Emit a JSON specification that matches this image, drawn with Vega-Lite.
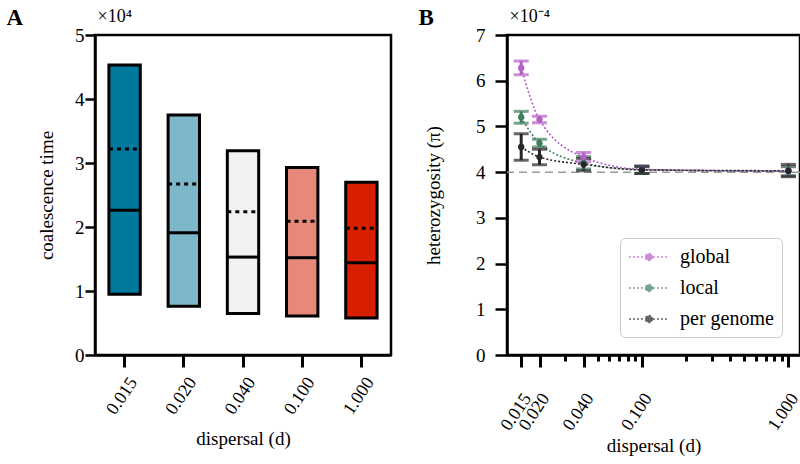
{
  "$schema": "https://vega.github.io/schema/vega-lite/v6.json",
  "background": "white",
  "padding": {"left": 4, "top": 4, "right": 2, "bottom": 2},
  "spacing": 23,
  "resolve": {"scale": {"color": "independent"}},
  "config": {
    "font": "Liberation Serif",
    "view": {"stroke": "black", "strokeWidth": 2.5},
    "axis": {
      "grid": false,
      "domainColor": "black",
      "domainWidth": 2.5,
      "tickColor": "black",
      "tickWidth": 2.5,
      "labelColor": "black",
      "titleColor": "black",
      "labelFont": "Liberation Serif",
      "titleFont": "Liberation Serif",
      "labelFontSize": 19,
      "titleFontSize": 19,
      "titleFontWeight": "normal"
    }
  },
  "hconcat": [
    {
      "width": 296,
      "height": 320,
      "data": {
        "values": [
          {"d": "0.015", "lo": 0.95, "hi": 4.53, "median": 2.26, "mean": 3.22},
          {"d": "0.020", "lo": 0.76, "hi": 3.75, "median": 1.91, "mean": 2.67},
          {"d": "0.040", "lo": 0.65, "hi": 3.19, "median": 1.53, "mean": 2.24},
          {"d": "0.100", "lo": 0.61, "hi": 2.93, "median": 1.52, "mean": 2.09},
          {"d": "1.000", "lo": 0.58, "hi": 2.70, "median": 1.44, "mean": 1.98}
        ]
      },
      "resolve": {"axis": {"y": "independent"}},
      "layer": [
        {
          "mark": {"type": "bar", "stroke": "black", "strokeWidth": 3},
          "encoding": {
            "x": {
              "field": "d", "type": "ordinal", "sort": null,
              "scale": {"paddingInner": 0.47, "paddingOuter": 0.235},
              "axis": {"title": "dispersal (d)", "labelAngle": -56, "labelAlign": "right", "labelBaseline": "middle", "labelOffset": 9, "labelPadding": 12, "tickSize": 12, "tickWidth": 3, "labelFontSize": 18, "titlePadding": 12}
            },
            "y": {
              "field": "lo", "type": "quantitative",
              "scale": {"domain": [0, 5]},
              "axis": {"orient": "left", "title": "coalescence time", "values": [0, 1, 2, 3, 4, 5], "format": "d", "tickSize": 10, "labelPadding": 1, "titlePadding": 18}
            },
            "y2": {"field": "hi"},
            "color": {
              "field": "d", "type": "nominal", "sort": null,
              "scale": {"range": ["#00799d", "#7eb7c9", "#f2f0f0", "#e6887a", "#d81f00"]},
              "legend": null
            }
          }
        },
        {
          "mark": {"type": "rule", "color": "black", "strokeWidth": 3},
          "encoding": {
            "x": {"field": "d", "type": "ordinal", "sort": null, "bandPosition": 0},
            "x2": {"field": "d", "bandPosition": 1},
            "y": {
              "field": "median", "type": "quantitative",
              "axis": {"orient": "left", "title": "A", "titleAngle": 0, "titleX": -89, "titleY": -11, "titleAlign": "left", "titleBaseline": "alphabetic", "titleFontSize": 23, "titleFontWeight": "bold", "domain": false, "ticks": false, "labels": false}
            }
          }
        },
        {
          "mark": {"type": "rule", "color": "black", "strokeWidth": 3, "strokeDash": [4, 4]},
          "encoding": {
            "x": {"field": "d", "type": "ordinal", "sort": null, "bandPosition": 0},
            "x2": {"field": "d", "bandPosition": 1},
            "y": {
              "field": "mean", "type": "quantitative",
              "axis": {"orient": "left", "title": "×10⁴", "titleAngle": 0, "titleX": 2, "titleY": -14, "titleAlign": "left", "titleBaseline": "alphabetic", "titleFontSize": 18, "titleFontWeight": "normal", "domain": false, "ticks": false, "labels": false}
            }
          }
        }
      ]
    },
    {
      "width": 293,
      "height": 320,
      "data": {
        "values": [
          {"d": 0.015, "series": "global", "mean": 6.28, "lo": 6.13, "hi": 6.43},
          {"d": 0.02, "series": "global", "mean": 5.15, "lo": 5.08, "hi": 5.22},
          {"d": 0.04, "series": "global", "mean": 4.33, "lo": 4.23, "hi": 4.43},
          {"d": 0.1, "series": "global", "mean": 4.06, "lo": 3.97, "hi": 4.14},
          {"d": 1.0, "series": "global", "mean": 4.02, "lo": 3.92, "hi": 4.12},
          {"d": 0.015, "series": "local", "mean": 5.2, "lo": 5.07, "hi": 5.33},
          {"d": 0.02, "series": "local", "mean": 4.63, "lo": 4.55, "hi": 4.72},
          {"d": 0.04, "series": "local", "mean": 4.2, "lo": 4.07, "hi": 4.34},
          {"d": 0.1, "series": "local", "mean": 4.05, "lo": 3.97, "hi": 4.13},
          {"d": 1.0, "series": "local", "mean": 4.02, "lo": 3.92, "hi": 4.12},
          {"d": 0.015, "series": "per genome", "mean": 4.55, "lo": 4.26, "hi": 4.84},
          {"d": 0.02, "series": "per genome", "mean": 4.33, "lo": 4.16, "hi": 4.5},
          {"d": 0.04, "series": "per genome", "mean": 4.17, "lo": 4.03, "hi": 4.3},
          {"d": 0.1, "series": "per genome", "mean": 4.05, "lo": 3.97, "hi": 4.12},
          {"d": 1.0, "series": "per genome", "mean": 4.03, "lo": 3.9, "hi": 4.17}
        ]
      },
      "resolve": {"axis": {"y": "independent"}},
      "layer": [
        {
          "data": {"values": [{"ref": 4}]},
          "mark": {"type": "rule", "color": "#9a9a9a", "strokeWidth": 1.5, "strokeDash": [8, 5]},
          "encoding": {
            "y": {
              "field": "ref", "type": "quantitative",
              "axis": {"orient": "left", "title": "B", "titleAngle": 0, "titleX": -89, "titleY": -11, "titleAlign": "left", "titleBaseline": "alphabetic", "titleFontSize": 23, "titleFontWeight": "bold", "domain": false, "ticks": false, "labels": false}
            }
          }
        },
        {
          "mark": {"type": "line", "strokeWidth": 1.6, "strokeDash": [2, 2], "interpolate": "monotone"},
          "encoding": {
            "x": {
              "field": "d", "type": "quantitative",
              "scale": {"type": "log", "domain": [0.012, 1.2]},
              "axis": {
                "title": "dispersal (d)",
                "values": [0.015, 0.02, 0.03, 0.04, 0.05, 0.06, 0.07, 0.08, 0.09, 0.1, 0.2, 0.3, 0.4, 0.5, 0.6, 0.7, 0.8, 0.9, 1],
                "labelExpr": "indexof([0.015, 0.02, 0.04, 0.1, 1], datum.value) >= 0 ? format(datum.value, '.3f') : ''",
                "tickSize": {"condition": {"test": "indexof([0.015, 0.02, 0.04, 0.1, 1], datum.value) >= 0", "value": 12}, "value": 6},
                "tickWidth": 3,
                "labelAngle": -56, "labelAlign": "right", "labelBaseline": "middle",
                "labelOffset": 6, "labelPadding": 28, "labelFontSize": 18,
                "labelOverlap": false, "labelFlush": false,
                "titlePadding": 3
              }
            },
            "y": {
              "field": "mean", "type": "quantitative",
              "scale": {"domain": [0, 7]},
              "axis": {"orient": "left", "title": "heterozygosity (π)", "values": [0, 1, 2, 3, 4, 5, 6, 7], "format": "d", "tickSize": 12, "labelPadding": 10, "titlePadding": 32}
            },
            "color": {
              "field": "series", "type": "nominal",
              "scale": {"domain": ["global", "local", "per genome"], "range": ["#b65ec8", "#3f7f5e", "#262626"]},
              "legend": {
                "title": null, "orient": "none", "legendX": 113, "legendY": 203,
                "symbolType": "M-2,0L2,0M0.35,0A0.35,0.35,0,1,1,-0.35,0A0.35,0.35,0,1,1,0.35,0",
                "symbolSize": 400, "symbolStrokeWidth": 1.5, "symbolDash": [2, 2], "symbolOpacity": 1,
                "symbolOffset": 10, "labelOffset": 20, "labelFontSize": 20, "labelFont": "Liberation Serif", "labelColor": "black",
                "rowPadding": 10, "padding": 8, "strokeColor": "#cccccc", "fillColor": "white", "cornerRadius": 5
              }
            }
          }
        },
        {
          "mark": {"type": "rule", "strokeWidth": 3},
          "encoding": {
            "x": {"field": "d", "type": "quantitative", "scale": {"type": "log", "domain": [0.012, 1.2]}},
            "y": {
              "field": "lo", "type": "quantitative", "scale": {"domain": [0, 7]},
              "axis": {"orient": "left", "title": "×10⁻⁴", "titleAngle": 0, "titleX": 2, "titleY": -14, "titleAlign": "left", "titleBaseline": "alphabetic", "titleFontSize": 18, "titleFontWeight": "normal", "domain": false, "ticks": false, "labels": false}
            },
            "y2": {"field": "hi"},
            "color": {"field": "series", "type": "nominal"}
          }
        },
        {
          "mark": {"type": "tick", "orient": "horizontal", "thickness": 3, "size": 15},
          "encoding": {
            "x": {"field": "d", "type": "quantitative", "scale": {"type": "log", "domain": [0.012, 1.2]}},
            "y": {"field": "lo", "type": "quantitative", "scale": {"domain": [0, 7]}, "axis": null},
            "color": {"field": "series", "type": "nominal"}
          }
        },
        {
          "mark": {"type": "tick", "orient": "horizontal", "thickness": 3, "size": 15},
          "encoding": {
            "x": {"field": "d", "type": "quantitative", "scale": {"type": "log", "domain": [0.012, 1.2]}},
            "y": {"field": "hi", "type": "quantitative", "scale": {"domain": [0, 7]}, "axis": null},
            "color": {"field": "series", "type": "nominal"}
          }
        },
        {
          "mark": {"type": "point", "filled": true, "size": 40, "opacity": 1},
          "encoding": {
            "x": {"field": "d", "type": "quantitative", "scale": {"type": "log", "domain": [0.012, 1.2]}},
            "y": {"field": "mean", "type": "quantitative", "scale": {"domain": [0, 7]}, "axis": null},
            "color": {"field": "series", "type": "nominal"}
          }
        }
      ]
    }
  ]
}
